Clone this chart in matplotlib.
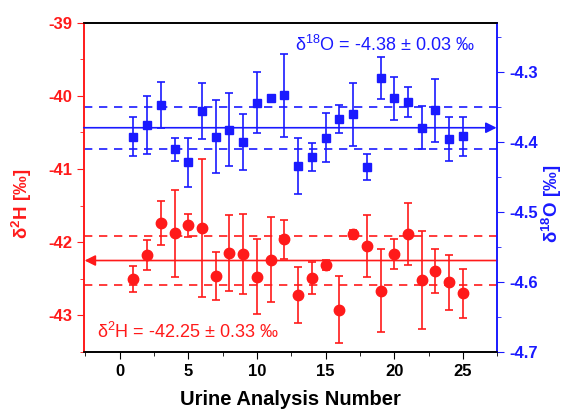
import numpy as np
import matplotlib
matplotlib.use('Agg')
import matplotlib.pyplot as plt
from matplotlib.ticker import MultipleLocator

plt.rcParams['font.family'] = ['Liberation Sans', 'DejaVu Sans']
plt.rcParams['mathtext.default'] = 'regular'
plt.rcParams['axes.unicode_minus'] = False

# data
sample = np.arange(1, 26)

d2h = [-42.50, -42.175, -41.74, -41.88, -41.77, -41.81, -42.46, -42.15, -42.16, -42.47,
       -42.24, -41.96, -42.72, -42.49, -42.31, -42.92, -41.89, -42.05, -42.66, -42.16,
       -41.89, -42.52, -42.39, -42.55, -42.70]
d2h_err = [0.18, 0.20, 0.30, 0.59, 0.16, 0.94, 0.33, 0.52, 0.55, 0.51,
           0.58, 0.27, 0.38, 0.22, 0.07, 0.46, 0.06, 0.42, 0.57, 0.20,
           0.42, 0.67, 0.30, 0.38, 0.34]

d18o = [-4.393, -4.376, -4.348, -4.411, -4.429, -4.356, -4.393, -4.383, -4.401, -4.344,
        -4.337, -4.334, -4.435, -4.422, -4.394, -4.368, -4.361, -4.436, -4.309, -4.338,
        -4.343, -4.380, -4.355, -4.396, -4.392]
d18o_err = [0.028, 0.041, 0.033, 0.016, 0.035, 0.040, 0.052, 0.052, 0.040, 0.044,
            0.004, 0.059, 0.040, 0.020, 0.035, 0.020, 0.045, 0.019, 0.030, 0.031,
            0.021, 0.031, 0.045, 0.031, 0.028]

d2h_mean, d2h_sd = -42.25, 0.33
d18o_mean, d18o_sd = -4.38, 0.03

red = '#ff1a1a'
blue = '#1a1aff'

fig, ax = plt.subplots(figsize=(5.67, 4.11), dpi=100)
fig.subplots_adjust(left=0.148, right=0.877, bottom=0.1435, top=0.945)
ax2 = ax.twinx()

xmin, xmax = -2.6, 27.5
ax.set_xlim(xmin, xmax)
ax.set_ylim(-43.5, -39)
ax2.set_ylim(-4.7, -4.23)

# mean and sd lines
ax.axhline(d2h_mean + d2h_sd, color=red, lw=1.2, ls=(0, (5, 4)))
ax.axhline(d2h_mean - d2h_sd, color=red, lw=1.2, ls=(0, (5, 4)))
ax.annotate('', xy=(xmin + 0.05, d2h_mean), xytext=(xmax, d2h_mean),
            arrowprops=dict(arrowstyle='-|>', color=red, lw=1.2,
                            mutation_scale=16, shrinkA=0, shrinkB=0))
ax2.axhline(d18o_mean + d18o_sd, color=blue, lw=1.2, ls=(0, (5, 4)))
ax2.axhline(d18o_mean - d18o_sd, color=blue, lw=1.2, ls=(0, (5, 4)))
ax2.annotate('', xy=(xmax - 0.05, d18o_mean), xytext=(xmin, d18o_mean),
             arrowprops=dict(arrowstyle='-|>', color=blue, lw=1.2,
                             mutation_scale=16, shrinkA=0, shrinkB=0))

# points
ax.errorbar(sample, d2h, yerr=d2h_err, fmt='o', color=red, ms=7.5,
            elinewidth=1.2, capsize=3, capthick=1.2)
ax2.errorbar(sample, d18o, yerr=d18o_err, fmt='s', color=blue, ms=6,
             elinewidth=1.2, capsize=3, capthick=1.2)

# text
ax.text(0.031, 0.061, 'δ$^2$H = -42.25 ± 0.33 ‰', transform=ax.transAxes,
        color=red, fontsize=13, va='center', ha='left')
ax2.text(0.511, 0.932, 'δ$^{18}$O = -4.38 ± 0.03 ‰', transform=ax2.transAxes,
         color=blue, fontsize=13, va='center', ha='left')

# axes styling
ax.set_xlabel('Urine Analysis Number', fontsize=14.5, fontweight='bold', labelpad=8)
ax.set_ylabel('δ$^2$H [‰]', fontsize=13.5, fontweight='bold', color=red, va='center')
ax2.set_ylabel('δ$^{18}$O [‰]', fontsize=13.5, fontweight='bold', color=blue, va='center')
ax.yaxis.set_label_coords(-0.150, 0.449)
ax2.yaxis.set_label_coords(1.133, 0.449)

ax.xaxis.set_major_locator(MultipleLocator(5))
ax.xaxis.set_minor_locator(MultipleLocator(2.5))
ax.yaxis.set_major_locator(MultipleLocator(1))
ax.yaxis.set_minor_locator(MultipleLocator(0.5))
ax2.yaxis.set_major_locator(MultipleLocator(0.1))
ax2.yaxis.set_minor_locator(MultipleLocator(0.05))

ax.tick_params(axis='x', which='both', direction='out', top=False, labelsize=12)
ax.tick_params(axis='x', which='major', length=5)
ax.tick_params(axis='x', which='minor', length=3)
ax.tick_params(axis='y', which='both', colors=red, labelsize=12)
ax.tick_params(axis='y', which='major', length=5)
ax.tick_params(axis='y', which='minor', length=3)
ax2.tick_params(axis='y', which='both', colors=blue, labelsize=12)
ax2.tick_params(axis='y', which='major', length=5)
ax2.tick_params(axis='y', which='minor', length=3)
for lab in ax.get_xticklabels() + ax.get_yticklabels() + ax2.get_yticklabels():
    lab.set_fontweight('bold')

ax2.spines['left'].set_color(red)
ax2.spines['right'].set_color(blue)
ax.spines['left'].set_color(red)
ax.spines['right'].set_color(blue)
for a in (ax, ax2):
    for s in a.spines.values():
        s.set_linewidth(1.2)

plt.savefig('out.png', dpi=100)
